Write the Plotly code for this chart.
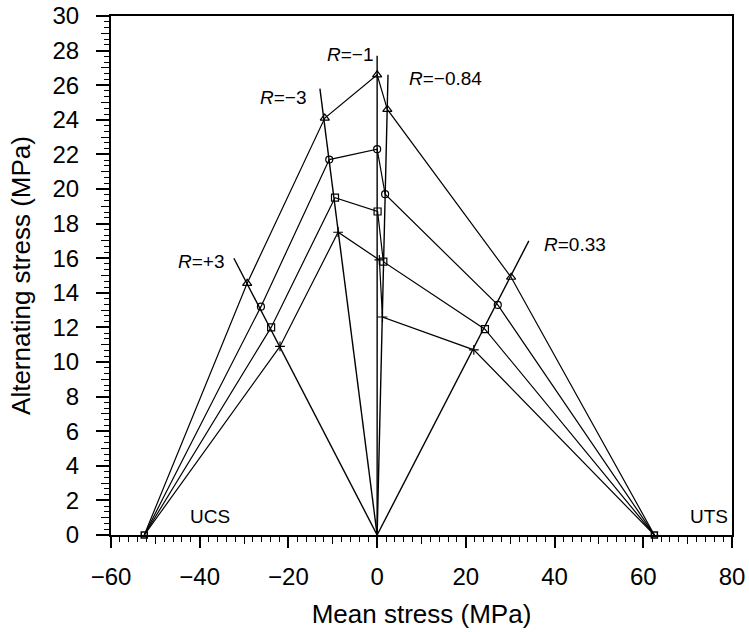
import numpy as np
import plotly.graph_objects as go

# ---- data (mean stress, alternating stress) in MPa ----
ucs = (-52.5, 0.0)
uts = (62.5, 0.0)

# constant-life lines: points at R=+3, R=-3, R=-1, R=-0.84, R=0.33
curve_a_mean = [-29.3, -11.8, 0.0, 2.3, 30.2]
curve_a_alt = [14.55, 24.1, 26.6, 24.6, 14.9]
curve_b_mean = [-26.2, -10.8, 0.0, 1.8, 27.2]
curve_b_alt = [13.2, 21.7, 22.3, 19.7, 13.3]
curve_c_mean = [-23.9, -9.5, 0.1, 1.4, 24.3]
curve_c_alt = [12.0, 19.5, 18.7, 15.8, 11.9]
curve_d_mean = [-21.9, -8.8, 0.5, 1.2, 21.8]
curve_d_alt = [10.9, 17.5, 15.9, 12.6, 10.7]

# R-ratio radial lines from origin: end points
r_labels = ["R=+3", "R=−3", "R=−1", "R=−0.84", "R=0.33"]
r_end_mean = [-32.3, -12.9, 0.0, 2.45, 34.2]
r_end_alt = [16.0, 25.8, 27.7, 26.6, 17.0]

x_ticks = [-60, -40, -20, 0, 20, 40, 60, 80]
y_ticks = list(range(0, 31, 2))

FONT = "Liberation Sans"
fig = go.Figure()

# radial R lines
for xm, ya in zip(r_end_mean, r_end_alt):
    fig.add_trace(go.Scatter(x=[0, xm], y=[0, ya], mode="lines",
                             line=dict(color="black", width=1.4),
                             showlegend=False, hoverinfo="skip"))

curves = [
    (curve_a_mean, curve_a_alt, "triangle-up-open", 8),
    (curve_b_mean, curve_b_alt, "circle-open", 7),
    (curve_c_mean, curve_c_alt, "square-open", 7),
    (curve_d_mean, curve_d_alt, "cross-thin-open", 7),
]
for xm, ya, sym, sz in curves:
    xs = [ucs[0]] + xm + [uts[0]]
    ys = [ucs[1]] + ya + [uts[1]]
    fig.add_trace(go.Scatter(x=xs, y=ys, mode="lines",
                             line=dict(color="black", width=1.2),
                             showlegend=False, hoverinfo="skip"))
    fig.add_trace(go.Scatter(x=xm, y=ya, mode="markers",
                             marker=dict(symbol=sym, size=sz, color="black",
                                         line=dict(width=1.2, color="black")),
                             showlegend=False, hoverinfo="skip"))

# UCS / UTS end points
fig.add_trace(go.Scatter(x=[ucs[0], uts[0]], y=[ucs[1], uts[1]], mode="markers",
                         marker=dict(symbol="square-open", size=6, color="black",
                                     line=dict(width=1.5, color="black")),
                         showlegend=False, hoverinfo="skip", cliponaxis=False))

# helper invisible traces for medium-tick overlay axes
fig.add_trace(go.Scatter(x=[0], y=[0], xaxis="x2", yaxis="y", mode="markers",
                         marker=dict(opacity=0), showlegend=False, hoverinfo="skip"))
fig.add_trace(go.Scatter(x=[0], y=[0], xaxis="x", yaxis="y2", mode="markers",
                         marker=dict(opacity=0), showlegend=False, hoverinfo="skip"))

# annotations
ann_font = dict(family=FONT, size=19, color="black")
ann = [
    ("<i>R</i>=−1", -6.1, 27.75, "center"),
    ("<i>R</i>=−3", -21.2, 25.3, "center"),
    ("<i>R</i>=−0.84", 6.7, 26.4, "left"),
    ("<i>R</i>=+3", -39.5, 15.8, "center"),
    ("<i>R</i>=0.33", 37.2, 16.8, "left"),
    ("UCS", -37.7, 1.05, "center"),
    ("UTS", 74.8, 1.05, "center"),
]
for t, x, y, xa in ann:
    fig.add_annotation(text=t, x=x, y=y, xref="x", yref="y", showarrow=False,
                       xanchor=xa, yanchor="middle", font=ann_font)

tick_font = dict(family=FONT, size=24, color="black")
fig.update_layout(
    width=749, height=632,
    margin=dict(l=111, r=17, t=16, b=97, autoexpand=False),
    plot_bgcolor="white", paper_bgcolor="white",
    xaxis=dict(range=[-60, 80], tickvals=x_ticks, automargin=False,
               ticktext=[("−" + str(-v)) if v < 0 else str(v) for v in x_ticks],
               ticks="outside", ticklen=11, tickwidth=1.5, tickcolor="black",
               showline=True, linecolor="black", linewidth=2, mirror=True,
               showgrid=False, zeroline=False, tickfont=tick_font,
               ticklabelstandoff=8,
               minor=dict(dtick=2, tick0=0, ticks="outside", ticklen=5,
                          tickwidth=1.2, tickcolor="black", showgrid=False),
               title=dict(text="Mean stress (MPa)", font=dict(family=FONT, size=26, color="black"),
                          standoff=16)),
    yaxis=dict(range=[0, 30], tickvals=y_ticks, automargin=False,
               ticks="outside", ticklen=13, tickwidth=1.5, tickcolor="black",
               showline=True, linecolor="black", linewidth=2, mirror=True,
               showgrid=False, zeroline=False, tickfont=tick_font,
               ticklabelstandoff=12,
               minor=dict(dtick=1/3, tick0=0, ticks="outside", ticklen=5,
                          tickwidth=1.2, tickcolor="black", showgrid=False),
               title=dict(text="Alternating stress (MPa)", font=dict(family=FONT, size=26, color="black"),
                          standoff=14)),
    xaxis2=dict(overlaying="x", anchor="y", side="bottom", range=[-60, 80],
                tickvals=list(range(-50, 80, 20)), ticks="outside", ticklen=8,
                tickwidth=1.3, tickcolor="black", showticklabels=False,
                showline=False, showgrid=False, zeroline=False, automargin=False),
    yaxis2=dict(overlaying="y", anchor="x", side="left", range=[0, 30],
                tickvals=list(range(1, 30, 2)), ticks="outside", ticklen=9,
                tickwidth=1.3, tickcolor="black", showticklabels=False,
                showline=False, showgrid=False, zeroline=False, automargin=False),
)

fig.write_html("out.html")
